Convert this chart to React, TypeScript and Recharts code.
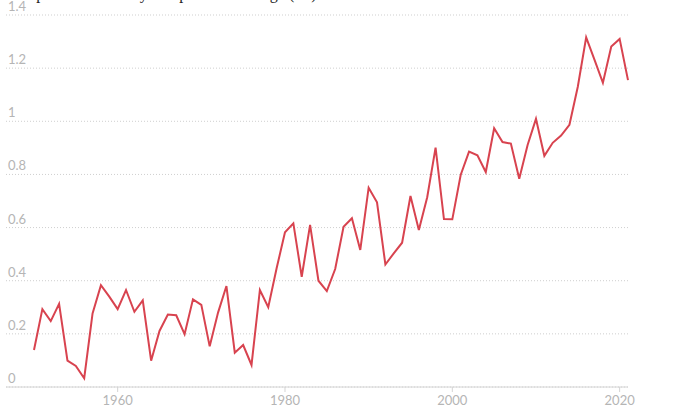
import React from "react";
import { CartesianGrid, Line, LineChart, XAxis, YAxis } from "recharts";

const years = Array.from({ length: 72 }, (_, i) => 1950 + i);

const anomaly = [
  0.139, 0.293, 0.248, 0.313, 0.099, 0.079, 0.033, 0.277, 0.383, 0.34,
  0.293, 0.365, 0.283, 0.326, 0.099, 0.211, 0.273, 0.27, 0.199, 0.33,
  0.309, 0.153, 0.28, 0.38, 0.129, 0.158, 0.083, 0.365, 0.3, 0.447,
  0.582, 0.616, 0.415, 0.61, 0.4, 0.361, 0.444, 0.603, 0.635, 0.516,
  0.75, 0.695, 0.461, 0.503, 0.543, 0.719, 0.591, 0.714, 0.901, 0.632,
  0.631, 0.798, 0.886, 0.872, 0.809, 0.974, 0.922, 0.916, 0.784, 0.911,
  1.009, 0.87, 0.919, 0.946, 0.987, 1.13, 1.316, 1.231, 1.145, 1.281,
  1.31, 1.155,
];

const xTicks = [1960, 1980, 2000, 2020];
const yTicks = [0, 0.2, 0.4, 0.6, 0.8, 1, 1.2, 1.4];

const title = "Temperature anomaly compared to average (°C)";

const data = years.map((year, i) => ({ year, value: anomaly[i] }));

const YTick = (props: any) => {
  const { y, payload } = props;
  return (
    <text x={8} y={y - 4} fill="#b5b5b5" fontSize={13} fontFamily="Lato" textAnchor="start">
      {payload.value}
    </text>
  );
};

export default function App() {
  return (
    <div style={{ position: "absolute", left: 0, top: 0 }}>
      <LineChart
        width={682}
        height={416}
        data={data}
        margin={{ top: 15, right: 54, left: 0, bottom: 0 }}
      >
        <text x={8} y={-1} fontSize={16} fill="#222" fontFamily="serif">
          {title}
        </text>
        <CartesianGrid vertical={false} stroke="#cfcfcf" strokeDasharray="1 2" />
        <XAxis
          dataKey="year"
          type="number"
          domain={[1950, 2021]}
          ticks={xTicks}
          padding={{ left: 28, right: 0 }}
          height={29}
          stroke="#d4d4d4"
          tickSize={5}
          tickMargin={4}
          tick={{ fill: "#b5b5b5", fontSize: 13, fontFamily: "Lato" }}
        />
        <YAxis
          domain={[0, 1.4]}
          ticks={yTicks}
          width={6}
          axisLine={false}
          tickLine={false}
          interval={0}
          tick={<YTick />}
        />
        <Line
          dataKey="value"
          stroke="#d8434f"
          strokeWidth={2}
          dot={false}
          isAnimationActive={false}
        />
      </LineChart>
    </div>
  );
}
